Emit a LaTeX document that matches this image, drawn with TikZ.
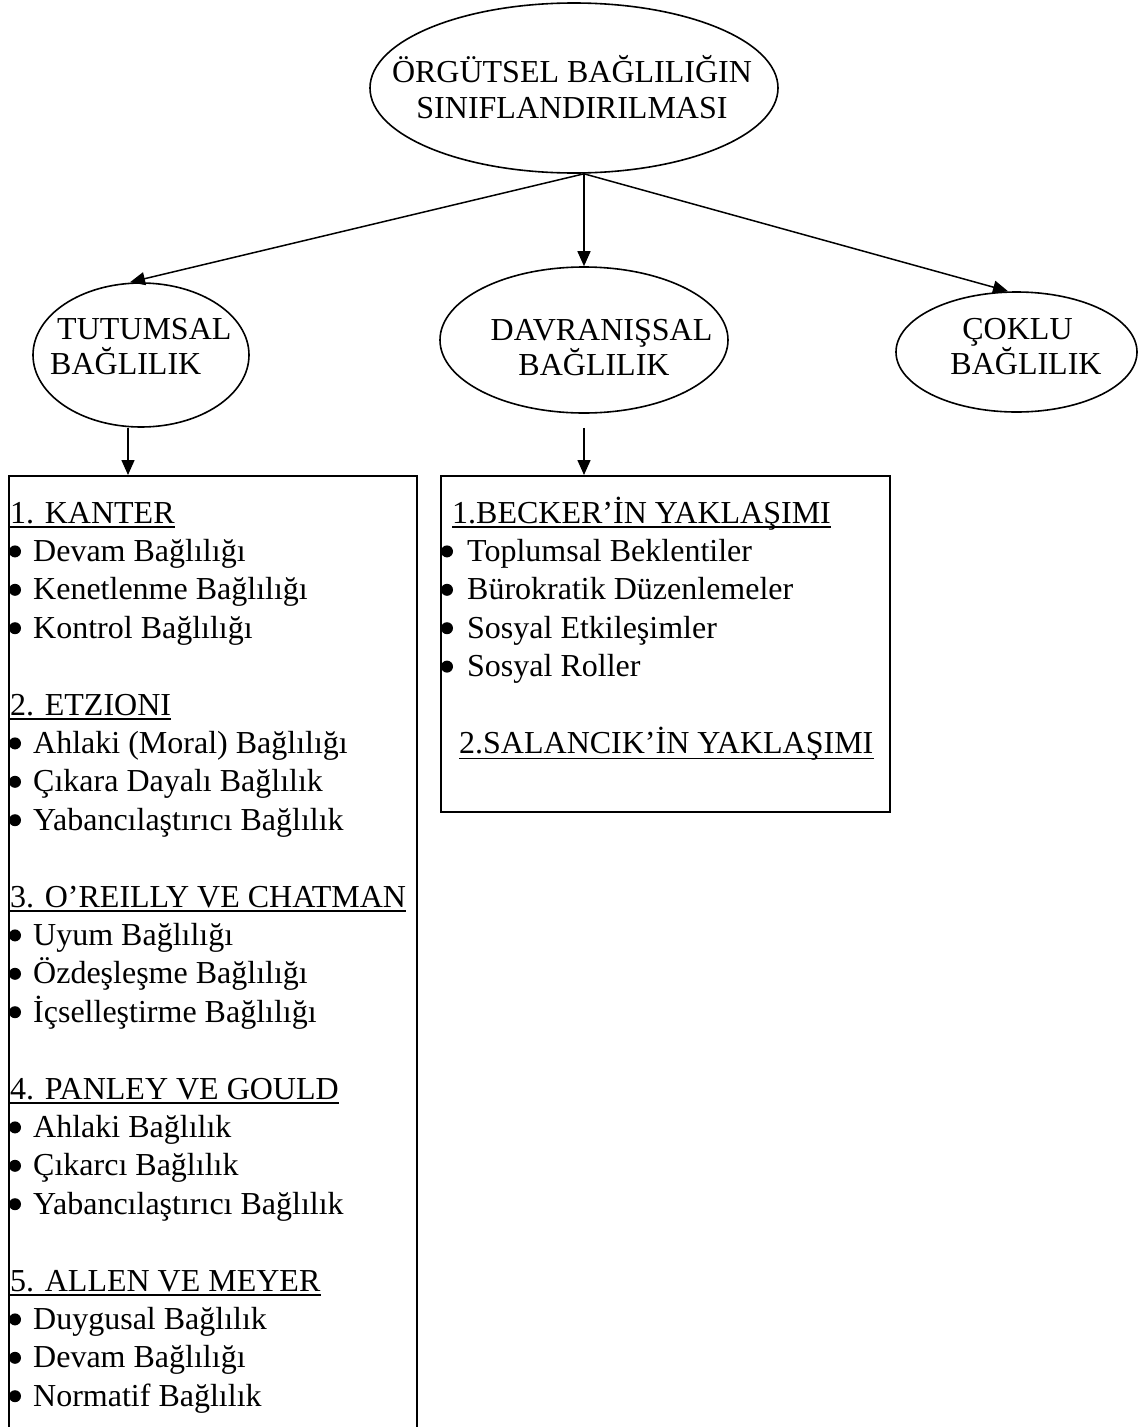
\documentclass[tikz,border=0pt]{standalone}
\usepackage{fontspec}
\setmainfont{Liberation Serif}
\usetikzlibrary{shapes.geometric,arrows.meta}
\tikzset{
  ell/.style={draw, ellipse, line width=1.6pt, inner sep=0pt},
  boxr/.style={draw, rectangle, line width=1.6pt, inner sep=0pt, anchor=north west},
  txt/.style={anchor=base west, inner sep=0pt, font=\fontsize{32}{38.4}\selectfont},
  ctxt/.style={anchor=base, inner sep=0pt, font=\fontsize{32}{38.4}\selectfont},
  ul/.style={line width=1.7pt},
  bul/.style={circle, fill, inner sep=0pt, minimum size=12pt},
  arr/.style={line width=1.5pt, -{Triangle[length=15pt,width=13pt]}},
}
\begin{document}
\begin{tikzpicture}[x=1pt,y=-1pt]
\useasboundingbox (0,0) rectangle (1143,1427);
\clip (0,0) rectangle (1143,1427);

% ellipses
\node[ell, minimum width=408pt, minimum height=170pt] (top) at (574,88) {};
\node[ell, minimum width=216pt, minimum height=144pt] (tut) at (141,355) {};
\node[ell, minimum width=288pt, minimum height=146pt] (dav) at (584,340) {};
\node[ell, minimum width=241pt, minimum height=120pt] (cok) at (1016.5,352) {};

% ellipse texts
\node[ctxt] (topa) at (572,82) {ÖRGÜTSEL BAĞLILIĞIN};
\node[ctxt] (topb) at (572,118) {SINIFLANDIRILMASI};
\node[txt] (tuta) at (57,339) {TUTUMSAL};
\node[txt] (tutb) at (50,374) {BAĞLILIK};
\node[ctxt] (dava) at (601.5,340) {DAVRANIŞSAL};
\node[ctxt] (davb) at (594,375) {BAĞLILIK};
\node[ctxt] (coka) at (1017.5,339) {ÇOKLU};
\node[ctxt] (cokb) at (1026,374) {BAĞLILIK};

% boxes
\node[boxr, minimum width=408pt, minimum height=1000pt] (b1) at (8,475) {};
\node[boxr, minimum width=449pt, minimum height=336pt] (b2) at (440,475) {};

% connectors
\coordinate (src) at ([xshift=10pt]top.south);
\draw[arr] (src) -- ([xshift=-11pt]tut.north);
\draw[arr] (src) -- (src |- dav.north);
\draw[arr] (src) -- ([xshift=-8.5pt]cok.north);
\draw[arr] ([xshift=-13pt]tut.south) -- ([xshift=-13pt]tut.south |- b1.north);
\draw[arr] ([yshift=-14pt]dav.south) -- (dav.south |- b2.north);

% left box contents
\foreach \h/\a/\b/\c [count=\k from 0] in {
  {1. KANTER}/{Devam Bağlılığı}/{Kenetlenme Bağlılığı}/{Kontrol Bağlılığı},
  {2. ETZIONI}/{Ahlaki (Moral) Bağlılığı}/{Çıkara Dayalı Bağlılık}/{Yabancılaştırıcı Bağlılık},
  {3. O’REILLY VE CHATMAN}/{Uyum Bağlılığı}/{Özdeşleşme Bağlılığı}/{İçselleştirme Bağlılığı},
  {4. PANLEY VE GOULD}/{Ahlaki Bağlılık}/{Çıkarcı Bağlılık}/{Yabancılaştırıcı Bağlılık},
  {5. ALLEN VE MEYER}/{Duygusal Bağlılık}/{Devam Bağlılığı}/{Normatif Bağlılık}}
{
  \pgfmathsetmacro\yy{523+192*\k}
  \node[txt] (h\k) at (10,\yy) {\h};
  \draw[ul] ([yshift=-4pt]h\k.base west) -- ([yshift=-4pt]h\k.base east);
  \node[txt] (ia\k) at (33,\yy+38.4) {\a};
  \node[txt] (ib\k) at (33,\yy+76.8) {\b};
  \node[txt] (ic\k) at (33,\yy+115.2) {\c};
  \node[bul] (ba\k) at (15,\yy+38.4-10) {};
  \node[bul] (bb\k) at (15,\yy+76.8-10) {};
  \node[bul] (bc\k) at (15,\yy+115.2-10) {};
}

% right box contents
\node[txt] (r0) at (452,523) {1.BECKER’İN YAKLAŞIMI};
\draw[ul] ([yshift=-4pt]r0.base west) -- ([yshift=-4pt]r0.base east);
\foreach \t [count=\j] in {Toplumsal Beklentiler, Bürokratik Düzenlemeler, Sosyal Etkileşimler, Sosyal Roller}
{
  \node[txt] (r\j) at (467,523+38.4*\j) {\t};
  \node[bul] (rb\j) at (447,523+38.4*\j-10) {};
}
\node[txt] (r6) at (459,753.4) {2.SALANCIK’İN YAKLAŞIMI};
\draw[ul] ([yshift=-5pt]r6.base west) -- ([yshift=-5pt]r6.base east);
\end{tikzpicture}
\end{document}
